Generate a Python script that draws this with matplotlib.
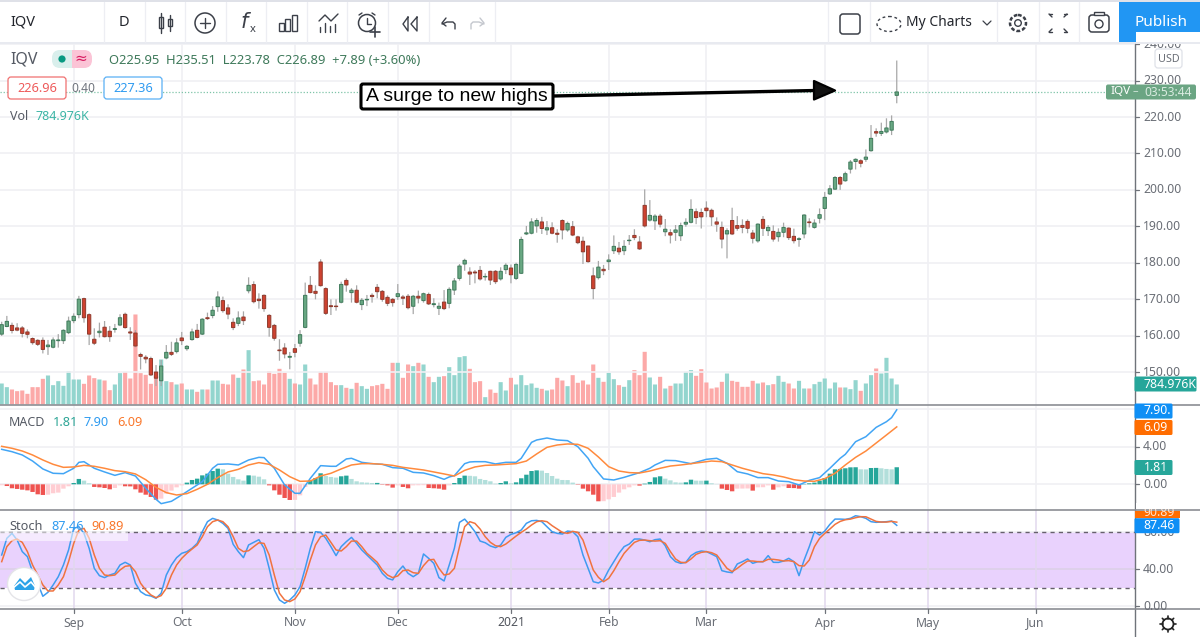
import matplotlib
matplotlib.use("Agg")
import matplotlib.pyplot as plt
import numpy as np
from matplotlib.patches import Rectangle, FancyBboxPatch, Circle, Polygon, Ellipse

plt.rcParams['font.family'] = ['Noto Sans', 'DejaVu Sans']

# ---------- DATA ----------
opens = [160.4,162.5,162.8,162.1,162.1,161,159.2,158.7,158.7,156.95,156.8,158.6,158.6,160.8,164.1,165.75,170.15,165.75,159,160.8,
162.3,161.2,161.7,162.9,165.85,161,160.7,154.8,154.05,153.7,150,147.6,153.85,155.4,155.6,159.35,156.4,158.9,161.45,160.4,
164.9,165.5,167.95,169.6,167.6,163.65,163.35,165.1,172.3,174,170,171.05,165.55,162.8,156.05,156.6,154.05,156.4,157.9,162.25,
173.8,172.15,180.2,172.9,168.2,168.1,169.15,175.15,171.8,172.45,168.5,169.8,171.05,173.25,172.15,170.5,169.95,170.7,170.6,170.8,
168.05,170.8,169.6,171.3,168.5,167.5,169.2,168.85,172.5,175.7,179.65,177.45,177.45,177.9,176.1,177.65,177.65,175.55,178.1,178.55,175.7,
177.1,187.9,188.1,190.1,191.2,189.0,189.6,188.1,191.6,189.0,189.9,187.1,185.9,184.6,176.4,175.9,178.2,180.3,183.3,184,
183.3,186.05,187.5,185.7,195.75,191.7,191.5,192.8,188.5,188.25,188.35,187.4,190.6,191.1,194,193.8,195,194.4,191.2,189.7,
187.9,191.6,190.2,190.25,191.35,188.15,186,191.9,188.8,188.6,187.15,188.35,189.5,187.25,186.4,187.9,191.2,189.7,192.2,194.9,
198.9,200.2,203.4,202.5,205.7,207.8,208,208.4,210.75,216,215.5,215.9,216.4,225.95]
highs = [163.8,165.4,163.55,163.4,162.6,161.7,159.5,159,159.5,158.8,159.5,160.4,161.7,165.2,166.1,170.9,170.4,166.1,162,163.55,
164,162.6,163.2,165.85,166.3,162.3,161.5,155.3,154.6,154.2,151.9,153.3,157.4,158.3,159.25,161,157.4,161.9,163.2,164.75,
166.3,168.1,172.15,170.7,168.6,164.75,166.65,166.65,176,174.9,171.6,171.3,165.9,163.2,159,157.9,155.5,157.7,161.5,174.55,
176.35,173.8,180.95,173.25,169.95,169.95,174.8,175.7,173,173.8,170.3,171.15,171.6,174.15,172.5,171.05,170.3,174.15,171.15,171.4,
171.15,172.35,171.8,171.8,170.25,169.05,172.5,173.25,175.8,179.65,181.1,178.75,178,179.1,177.1,177.8,178,178.75,179.85,179.5,180,
187.15,190.1,192.2,192.2,192.6,191.45,191.1,189.2,191.9,191.3,191.45,187.4,187.15,184.6,178.7,180.5,179.4,182.3,187.5,185.7,
186.2,187.6,189.2,187.3,200.15,197.2,193.3,193.4,192,189.2,190.35,191,192.2,197.4,194.9,194.9,196.85,194.85,192.45,191.3,
189.45,195.1,192.8,191.9,191.9,189,190.8,192.8,190.35,190.25,189.45,191,189.7,189.35,187,193.3,192.2,191.9,194.9,199.4,
201.3,203.8,203.8,205,208.2,208.65,208.4,211.1,217.8,216.9,218.45,219.65,220.45,235.51]
lows = [159.9,162.3,160.6,161.2,159.5,159.25,157.5,157.15,155.1,154.7,156.5,156.7,157.7,160.4,163.4,164.75,163.55,157.4,157.4,159.5,
159.5,158.3,160.8,162.6,161.9,158.8,156.8,150.7,152.4,148.9,146.15,146.15,153.5,154.4,155.1,157.4,155.85,158.6,159.25,160.15,
164.3,164.75,166.55,166.3,164.5,161.5,162.6,162.9,171.6,168.85,167.4,166.55,159.7,158.6,153.1,153.75,150.75,154.05,156.95,162,
171.6,169.95,173.45,165.65,165.65,166.85,168.85,172.05,169.05,168.85,167,168.1,169.05,170.25,169.3,168.1,167.95,169.8,168.4,167.2,
165.9,168.85,169.05,168.4,167.75,165.65,167,167.5,171.15,175.1,177.8,173.9,174.35,175.1,175.1,173.9,174.15,175.1,176.9,174.35,175.25,
176.9,187.6,187.8,188.25,187.9,187.6,187.8,185.5,186.4,188.5,187.3,185.1,179.65,180,170,175.4,176.6,178,182.4,182.2,
182.1,184.9,186.2,183.5,189.7,191.3,189,189.7,187.3,185.3,186,186,189.9,190.8,190.6,189.4,192.5,190.1,188.5,183.95,
181.2,187.6,188.8,188.1,188.1,185.3,185.5,187.35,187.35,185.8,185.8,187,186.25,185.3,184.4,186.7,189.7,189.35,190.8,191.7,
198.6,200,200,202.25,204.5,205.6,206.2,207.7,210.5,214.6,214.8,215.5,215.05,223.78]
closes = [163,163.9,161.4,161.5,160.6,160.35,158.05,157.6,156.2,157.4,158.8,158.8,161.45,164,165.3,170,164.9,160.4,157.9,161.2,
159.7,159.7,161.9,164.9,162.2,160.7,157.15,154.3,153.6,149.2,148.3,151.65,155.4,154.85,158,158.6,157.05,161,159.5,164.5,
164.65,166.95,170.6,166.85,165.9,162.2,164.85,164.1,173.8,169.3,169.6,167.4,162.25,159.25,155.85,154.95,154.3,155.4,160.25,171.05,
171.8,171.6,173.7,166.1,167.95,167.95,174.05,173.9,172.45,169.15,169.7,169.95,170.7,172.05,169.95,168.85,169.05,171.5,170.25,167.65,
170.8,170.3,171.5,168.7,168.75,168.05,167.4,172.7,175,179.1,180.65,176.9,177.2,175.55,176.25,175.25,174.8,177.65,179.3,176.7,179.55,
186.4,188.2,191.2,191.6,189.4,189.6,188.1,187.8,189.0,190.8,187.6,185.5,183.0,180.3,172.9,178.8,177.8,180.75,184.5,183,
184.5,186.2,186.9,183.8,190.1,193,192.8,190.6,189.2,187.6,189,190.2,191.1,194.65,192.4,192.6,194.3,192.6,190.6,186.5,
188.8,187.9,189.45,189.7,189.45,186.7,190.6,189.45,189.7,186.5,188.35,189.7,186.9,186.05,186.6,193.1,191,190.9,193.2,197.95,
200.3,203.4,201.6,204.45,207.65,208.4,207.3,209,214.15,215.6,216.05,217,218.8,226.89]
volumes = [823,680,588,523,549,418,680,680,1006,1137,758,915,732,1307,980,980,810,1137,1033,980,
941,562,784,1229,1281,1019,3529,1229,1163,810,1111,1764,915,876,784,823,588,588,497,588,
588,941,941,810,784,1176,1046,1372,2130,915,941,784,1307,1202,1398,1242,1006,823,784,1568,
1019,784,1281,1281,876,758,758,654,614,850,719,614,719,758,810,614,1634,1634,1046,1568,
1503,1634,1568,1085,876,1085,1111,1464,1150,1856,1895,1398,876,915,288,588,457,876,549,1046,
784,1150,758,823,654,614,549,588,1046,941,719,1150,850,941,784,1568,1046,889,1242,993,
758,693,954,1346,1150,2065,1059,784,1085,627,732,823,823,1281,1346,1124,1385,863,627,667,
889,1215,928,889,693,693,928,823,863,758,797,1124,889,823,627,928,627,627,797,889,
1019,627,863,667,667,601,954,536,823,1150,1411,1215,1830,1019,785]
macd_hist = [-0.10,-0.18,-0.42,-0.49,-0.57,-0.64,-0.81,-1.06,-1.13,-1.10,-0.95,-0.88,-0.46,-0.21,0.14,0.57,0.39,0.11,-0.28,-0.32,
-0.39,-0.53,-0.39,-0.11,-0.21,-0.22,-0.53,-0.88,-1.10,-1.34,-1.63,-1.52,-0.99,-0.67,-0.32,-0.11,0.18,0.46,0.60,0.95,
1.13,1.41,1.66,1.59,1.13,0.78,0.53,0.39,0.95,0.92,0.81,0.53,-0.11,-0.64,-1.10,-1.45,-1.66,-1.65,-1.17,-0.28,
0.42,0.67,1.17,0.88,0.78,0.71,0.85,0.92,0.57,0.32,0.21,0.18,0.14,0.15,-0.04,-0.11,-0.35,-0.11,-0.28,-0.42,
-0.11,-0.10,-0.09,-0.39,-0.42,-0.46,-0.57,-0.11,0.14,0.67,0.92,0.90,0.85,0.57,0.46,0.32,0.07,0.14,0.32,0.11,
0.21,0.64,1.02,1.41,1.48,1.45,1.20,0.88,0.60,0.46,0.45,0.18,-0.04,-0.46,-0.74,-1.10,-1.80,-1.79,-1.59,-1.34,
-0.88,-0.53,-0.32,-0.11,-0.14,0.07,0.25,0.74,0.85,0.60,0.42,0.21,0.18,0.21,0.49,0.39,0.38,0.39,0.11,0.02,
-0.46,-0.60,-0.74,-0.46,-0.45,-0.44,-0.67,-0.32,-0.31,-0.11,-0.57,-0.32,-0.21,-0.39,-0.40,-0.46,0.04,0.11,0.18,0.39,
0.67,1.13,1.59,1.63,1.70,1.80,1.81,1.59,1.58,1.73,1.74,1.70,1.63,1.59,1.81]
macd_idx = [0,2,4,6,8,10,12,14,15,16,18,20,22,24,26,28,30,31,33,35,37,39,41,42,44,46,48,50,51,53,55,57,58,60,62,64,65,67,68,70,72,74,76,78,80,82,84,86,87,
88,90,91,92,94,96,98,100,101,103,104,106,108,110,112,114,115,117,119,121,124,126,127,129,131,134,137,139,141,143,145,147,149,151,153,155,157,159,161,163,164,166,168,170,172,173,174]
macd_line = [3.71,3.46,3.11,2.47,1.63,1.17,1.13,1.70,2.33,2.40,1.70,1.31,0.95,1.24,0.88,-0.42,-1.59,-2.05,-1.80,-1.13,-0.42,0.28,1.70,2.12,2.16,2.05,2.58,2.86,2.83,1.70,-0.07,-0.95,-0.95,0.64,1.98,1.91,1.91,2.69,2.76,2.33,2.19,2.12,1.77,1.70,1.27,1.20,0.92,0.53,0.78,
0.92,2.19,2.37,2.40,2.40,2.16,2.33,2.33,2.76,4.45,4.70,4.91,4.70,4.63,3.99,2.76,1.87,0.57,0.46,0.74,1.24,1.70,2.05,2.54,2.51,2.19,2.65,2.76,2.23,1.34,1.10,0.71,0.71,0.35,0.28,-0.07,0.42,0.71,1.70,2.76,3.18,4.52,5.05,6.04,6.64,7.07,7.90]
signal_idx = list(range(0, 175, 2))
signal_line = [4.03,3.82,3.53,3.11,2.58,2.12,1.80,1.84,2.01,1.91,1.70,1.45,1.34,1.10,0.49,-0.32,-0.88,-1.13,-0.99,-0.53,0.00,0.71,1.31,1.59,2.05,2.30,2.12,1.52,0.81,0.32,0.35,0.88,1.17,1.63,2.05,2.19,2.19,2.12,2.01,1.80,1.66,1.52,1.31,1.10,
0.88,1.48,1.84,2.01,2.05,2.12,2.19,2.47,3.22,3.92,4.17,4.28,4.24,3.82,2.90,1.87,1.41,1.24,1.20,1.41,1.70,1.94,2.05,2.19,2.33,2.47,2.40,2.05,1.70,1.41,1.13,0.99,0.78,0.49,0.35,0.32,0.60,1.17,2.05,2.86,3.53,4.38,5.23,6.09]
stoch_k = [55.5,73.5,78.8,71.7,59.1,53.7,37.5,25,11,15.3,23.2,32.1,44.7,60.9,84.2,86,78.8,62.7,41.1,33.2,31.1,33.9,35.7,44.7,47.6,44.7,25,16,12.4,11.3,8.8,14.2,33.9,44.7,52.6,57.3,59.1,62.7,68,80.6,91.4,95,93.2,89.6,84.2,67,59.1,52.6,66.3,69.1,72,62.7,41.1,17.8,7,3.4,7,12.4,21.4,41.1,62.7,80.6,79.9,73.5,64.5,54.8,64.5,69.9,74.5,68,60.9,55.5,50.1,44.7,35.7,30.3,28.6,37.5,43.6,35.7,32.1,35.7,56.6,51.9,46.5,31.1,27.5,44.7,
62.7,90.7,94.2,87.8,80.6,70.5,68.7,65.2,63.4,66.2,74.5,77.7,79.5,82.4,89.6,92.4,92.8,91.4,86,80.6,78.8,78.1,81.3,80.6,75.2,55.5,41.1,26.7,25.3,28.5,39.3,48.3,57.3,64.5,67.3,72.7,72.7,71.6,69.8,72,72.7,65.5,53.7,48.3,46.5,47.6,54.8,58.3,59.8,59.1,56.5,53.7,38.6,37.2,36.4,45.8,48.3,51.2,46.5,48.3,48.2,54.8,47.6,47.5,49,51.9,48.3,33.2,50.1,64.5,80.6,77,81.3,88.5,94.2,94.2,93.9,95,97.8,96.8,95,91.4,90.7,91,91.4,92.1,87.46]
stoch_d = [48.3,64.5,70.9,72.7,69.1,59.1,44.7,33.9,23.2,16.7,16.7,23.2,32.1,48.3,68,82.4,84.2,73.5,55.5,41.1,33.9,33.2,33.9,39.3,43.3,44,37.5,25,17.8,12.4,9.5,11.7,19.6,33.9,44.7,51.9,57.3,61.9,66.3,75.2,86,91.4,93.2,91.4,86,75.2,62.7,59.1,60.1,64.5,68.7,68,55.5,33.9,14.2,7,5.2,8.1,16,32.1,50.1,66.3,75.2,77,69.1,60.9,59.8,64.5,70.5,70.5,64.5,57.3,52.6,47.6,39.3,33.9,31.1,32.9,38.6,39.3,36.4,35.7,44,50.1,50.8,41.1,33.9,35,
41.1,64.5,86,91.4,89.6,83.5,75.2,69.1,65.5,64.5,67.3,71.6,75.9,79.9,83.5,87.8,91.4,92.4,91.4,87.1,83.5,79.9,78.8,81,79.9,71.6,55.5,39.3,31.4,26.7,30.3,38.6,48.3,57.3,63.4,69.1,71.3,71.6,70.9,70.5,70.9,68,59.1,51.2,47.6,47.2,51.2,56.2,58.3,59.1,58,55.5,48.3,41.1,37.5,41.1,45.4,49,49,48.3,48.3,50.8,50.8,50.1,49,49.4,48.3,44,43.6,50.1,64.5,73.4,78.8,83.5,88.5,91.7,93.5,94.2,95.7,96.8,96.7,94.2,91.7,91,91,91.7,90.89]
price_ticks = [150,160,170,180,190,200,210,220,230,240]
macd_ticks = [0,4,8]
stoch_ticks = [0,40,80]
month_idx = [14,35,57,77,99,118,137,160,180,201]
month_labels = ['Sep','Oct','Nov','Dec','2021','Feb','Mar','Apr','May','Jun']
last_price = 226.89
stoch_upper, stoch_lower = 80, 20

# ---------- LAYOUT ----------
W, H = 1200, 637
fig = plt.figure(figsize=(12, 6.37), dpi=100, facecolor='white')
AX_R = 1134.5
def pane(top, bottom, z=1):
    a = fig.add_axes([0, 1 - bottom / H, AX_R / W, (bottom - top) / H], zorder=z)
    a.set_xlim(-0.33, 220.22)
    a.set_xticks([]); a.set_yticks([])
    for s in a.spines.values():
        s.set_visible(False)
    a.patch.set_alpha(0)
    return a
def unsnap(container):
    for r in container:
        r.set_snap(False)

GRID = '#f0f0f4'
x = np.arange(len(closes))
o, h, l, c = map(np.array, (opens, highs, lows, closes))
up = c >= o

ax_v = pane(42, 404.5, 1)
ax_v.set_ylim(0, 14210)
unsnap(ax_v.bar(x, volumes, width=0.8, color=['#93d5ce' if u else '#fca9a8' for u in up], linewidth=0))
for m in month_idx:
    ax_v.axvline(m, color=GRID, lw=1.2, zorder=0)

ax_p = pane(42, 404.5, 2)
ax_p.set_ylim(141.08, 240.6)
for p in price_ticks:
    ax_p.axhline(p, color=GRID, lw=1.2, zorder=0)
ax_p.axhline(last_price, color='#7fc4a8', lw=0.9, ls=(0, (1, 1.5)), zorder=1)
wicks = ax_p.vlines(x, l, h, color='#a8a8a8', lw=0.9, zorder=2)
wicks.set_snap(False)
unsnap(ax_p.bar(x[up], (c - o)[up], bottom=o[up], width=0.64, color='#69a883', edgecolor='#3f7a5b', linewidth=0.7, zorder=3))
unsnap(ax_p.bar(x[~up], (o - c)[~up], bottom=c[~up], width=0.64, color='#cf4230', edgecolor='#8f3a2c', linewidth=0.7, zorder=3))

ax_m = pane(405, 509.5, 2)
ax_m.set_ylim(-2.67, 8.41)
for t in macd_ticks:
    ax_m.axhline(t, color=GRID, lw=1.2, zorder=0)
for m in month_idx:
    ax_m.axvline(m, color=GRID, lw=1.2, zorder=0)
hist = np.array(macd_hist)
prev = np.r_[hist[0], hist[:-1]]
hcol = []
for v, pv in zip(hist, prev):
    if v >= 0:
        hcol.append('#26a69a' if v >= pv else '#b2dfdb')
    else:
        hcol.append('#ffcdd2' if v >= pv else '#ef5350')
unsnap(ax_m.bar(x, hist, width=0.85, color=hcol, linewidth=0, zorder=1))
ax_m.plot(macd_idx, macd_line, color='#42a5f5', lw=1.1, zorder=3)
ax_m.plot(signal_idx, signal_line, color='#ff8a3d', lw=1.1, zorder=3)

ax_s = pane(510, 608.5, 2)
ax_s.set_ylim(-2.2, 104)
ax_s.axhspan(stoch_lower, stoch_upper, color='#e9d2fd', lw=0, zorder=0)
for t in stoch_ticks:
    ax_s.axhline(t, color='#dcd0e8' if t == 40 else GRID, lw=1.2, zorder=1)
for m in month_idx:
    ax_s.axvline(m, color='#e2d8ee', lw=1.1, zorder=1)
for t in (stoch_upper, stoch_lower):
    ax_s.axhline(t, color='#66606c', lw=1.0, ls=(0, (3, 3)), zorder=2)
ax_s.plot(x, stoch_k, color='#3f9bf0', lw=1.1, zorder=3)
ax_s.plot(x, stoch_d, color='#f0733f', lw=1.1, zorder=4)

# ---------- OVERLAY (interface) ----------
ov = fig.add_axes([0, 0, 1, 1], zorder=10)
ov.set_xlim(0, W); ov.set_ylim(H, 0); ov.axis('off'); ov.patch.set_alpha(0)
def T(px, py, s, col='#555a64', size=8.8, ha='left', va='center', **kw):
    return ov.text(px, py, s, color=col, fontsize=size, ha=ha, va=va, **kw)
def L(xs, ys, col='#3c4049', lw=1.0, **kw):
    ov.plot(xs, ys, color=col, lw=lw, solid_capstyle='round', **kw)
def box(x0, y0, w, h_, fc='white', ec='none', lw=1, r=2, z=5):
    ov.add_patch(FancyBboxPatch((x0 + r, y0 + r), w - 2 * r, h_ - 2 * r, boxstyle=f'round,pad={r},rounding_size={r}',
                                fc=fc, ec=ec, lw=lw, zorder=z))

# toolbar
ov.add_patch(Rectangle((0, 0), W, 2, fc='#dfe1e8', lw=0))
ov.add_patch(Rectangle((0, 42), W, 2, fc='#e8eaf0', lw=0))
for d in [104, 145, 185, 226, 266, 307, 347, 388, 429, 495, 828, 870, 997, 1039, 1079]:
    L([d, d], [2, 42], col='#edeef3', lw=0.9)
T(10, 22, 'IQV', '#23262d', 10.5, weight='medium')
T(124, 22, 'D', '#23262d', 10.5, ha='center', weight='medium')
# candle icon
L([161, 161], [13, 33]); ov.add_patch(Rectangle((159, 17), 4, 11, fc='white', ec='#3c4049', lw=1))
L([170, 170], [15, 31]); ov.add_patch(Rectangle((168, 19), 4, 7, fc='white', ec='#3c4049', lw=1))
# add icon
ov.add_patch(Circle((205, 23), 10, fc='none', ec='#3c4049', lw=1.1))
L([200, 210], [23, 23]); L([205, 205], [18, 28])
T(246, 23, '$f$', '#3c4049', 15, ha='center')
T(253, 29, 'x', '#3c4049', 8, ha='center')
# bar icon
for bx, bt in [(279, 23), (285, 19), (292, 15)]:
    ov.add_patch(Rectangle((bx, bt), 5, 31 - bt, fc='white', ec='#3c4049', lw=1))
# indicator icon
L([319, 325, 331, 338], [21, 15, 21, 14])
for bx, bt in [(320, 27), (325, 23), (330, 26), (335, 24)]:
    L([bx, bx], [bt, 32])
# alarm
ov.add_patch(Circle((367, 23), 8.5, fc='white', ec='#3c4049', lw=1.1))
L([367, 367, 371], [18, 24, 24]); L([359, 362], [15, 13]); L([375, 372], [15, 13])
L([370, 380], [32, 32], lw=1.2); L([375, 375], [27, 37], lw=1.2)
# rewind
L([408, 403, 408, 408], [17, 24, 31, 17]); L([417, 411, 417, 417], [17, 24, 31, 17])
# undo / redo
L([442, 447, 453, 455, 455], [24, 22, 22, 24, 29]); L([446, 442, 446], [18, 23, 26])
L([484, 479, 473, 471, 471], [24, 22, 22, 24, 29], col='#c4c7ce'); L([480, 484, 480], [18, 23, 26], col='#c4c7ce')
# right toolbar
box(840, 14, 20, 20, fc='white', ec='#3c4049', lw=1.1, r=3)
ov.add_patch(Ellipse((889, 24), 24, 15, fc='none', ec='#3c4049', lw=1, ls=(0, (2, 2))))
T(906, 22, 'My Charts', '#23262d', 10)
L([983, 987, 991], [21, 25, 21], lw=0.9)
ov.add_patch(Circle((1018, 23), 8, fc='white', ec='#3c4049', lw=1.8, ls=(0, (1.5, 0.8))))
ov.add_patch(Circle((1018, 23), 3.3, fc='white', ec='#3c4049', lw=1))
for sx, sy in [(-1, -1), (1, -1), (-1, 1), (1, 1)]:
    cx, cy = 1058 + 6 * sx, 23 + 6 * sy
    L([cx, cx + 3 * sx], [cy, cy + 3 * sy], lw=1)
    L([cx + 3 * sx, cx, ], [cy + 3 * sy, cy + 3 * sy], lw=1)
box(1089, 15, 20, 17, fc='white', ec='#3c4049', lw=1.1, r=3)
ov.add_patch(Rectangle((1094, 12), 10, 3, fc='white', ec='#3c4049', lw=1, zorder=6))
ov.add_patch(Circle((1099, 24), 4, fc='white', ec='#3c4049', lw=1, zorder=7))
ov.add_patch(Rectangle((1119, 2), 81, 40, fc='#2196f3', lw=0))
T(1161, 22, 'Publish', 'white', 11, ha='center', weight='semibold')

# legend
T(10, 60, 'IQV', '#555a64', 11.5)
box(52, 50, 21, 18, fc='#d9efec', r=8)
box(72, 50, 20, 18, fc='#fbc4d6', r=8)
ov.add_patch(Rectangle((62, 50), 10, 18, fc='#d9efec', lw=0, zorder=6))
ov.add_patch(Rectangle((72, 50), 10, 18, fc='#fbc4d6', lw=0, zorder=6))
ov.add_patch(Circle((62, 59), 3.6, fc='#089981', lw=0, zorder=7))
T(81, 59, '≈', '#d81b60', 11, ha='center', zorder=7)
T(109, 60.5, 'O225.95  H235.51  L223.78  C226.89  +7.89 (+3.60%)', '#3f7a5b', 9.35)
box(8, 77, 58, 22, fc='white', ec='#f07070', lw=0.9, r=3)
T(37, 88, '226.96', '#ee5a5a', 9.2, ha='center', zorder=6)
T(83, 88, '0.40', '#70757e', 8.6, ha='center')
box(104, 77, 58, 22, fc='white', ec='#5ab0f5', lw=0.9, r=3)
T(133, 88, '227.36', '#2f9bf0', 9.2, ha='center', zorder=6)
T(10, 117, 'Vol', '#555a64', 9)
T(36, 117, '784.976K', '#3db5a6', 9)
T(9, 422, 'MACD', '#555a64', 9)
T(53, 422, '1.81', '#2fa697', 9.2)
T(84, 422, '7.90', '#2f9bf0', 9.2)
T(117, 422, '6.09', '#f9772b', 9.2)
ov.add_patch(Rectangle((0, 531.5), 128, 9, fc='white', alpha=0.55, lw=0))
T(9, 526, 'Stoch', '#555a64', 9.2)
T(51, 526, '87.46', '#2f9bf0', 9.2)
T(91, 526, '90.89', '#f9772b', 9.2)
# logo
ov.add_patch(Circle((24, 584), 16.5, fc='white', ec='#e4e4e8', lw=1, zorder=8))
ov.add_patch(Polygon([(14, 586), (20, 578), (25, 583), (31, 577), (35, 586), (34, 590), (15, 590)], fc='#2da3e8', lw=0, zorder=9))
L([13, 20, 25, 31, 36], [588, 582, 587, 582, 588], col='white', lw=1.2, zorder=9)

# annotation
L([553, 815], [96, 90.5], col='black', lw=2.4, zorder=7)
ov.add_patch(Polygon([(814, 81), (835, 90.5), (814, 99.5)], closed=True, fc='#111111', ec='black', lw=1.6, joinstyle='round', zorder=7))
box(361, 84, 192, 25, fc='white', ec='black', lw=2.2, r=2, z=8)
ov.text(457, 96.5, 'A surge to new highs', fontsize=14, color='black', ha='center', va='center',
        family=['Liberation Sans'], zorder=9)

# right axis
ov.add_patch(Rectangle((AX_R, 44), W - AX_R, 593, fc='white', lw=0, zorder=1))
L([AX_R, AX_R], [44, 637], col='#6f737a', lw=1.0, zorder=3)
L([0, W], [404.8, 404.8], col='#8b8e94', lw=1.2, zorder=3)
L([0, W], [509.7, 509.7], col='#8b8e94', lw=1.2, zorder=3)
L([0, W], [608.5, 608.5], col='#8b8e94', lw=1.2, zorder=3)

def right_y(a, v):
    disp = a.transData.transform((0, v))
    return H - disp[1] * H / fig.bbox.height
def tick(py):
    L([AX_R, AX_R + 4], [py, py], col='#6f737a', lw=0.9, zorder=3)
for p in price_ticks:
    py = right_y(ax_p, p)
    tick(py)
    T(1143, py + (0.5 if p == 240 else 0), f'{p:.2f}', '#6a6e76', 8.8)
ov.add_patch(Rectangle((1136, 42), 64, 2, fc='#e8eaf0', lw=0, zorder=4))
ov.add_patch(Rectangle((1136, 32), 64, 10, fc='white', lw=0, zorder=4))
box(1155, 49, 27, 19, fc='white', ec='#dfe1e8', lw=0.9, r=3)
T(1168.5, 59, 'USD', '#6a6e76', 7.8, ha='center', zorder=6)
for t, lab in [(4, '4.00'), (0, '0.00')]:
    py = right_y(ax_m, t); tick(py); T(1143, py, lab, '#6a6e76', 8.8)
for t, lab in [(40, '40.00'), (0, '0.00')]:
    py = right_y(ax_s, t); tick(py); T(1143, py, lab, '#6a6e76', 8.8)
T(1143, 532.5, '80.00', '#6a6e76', 8.8)

def tag(py, w, s, col, h_=15, r=1.5):
    box(AX_R, py - h_ / 2, w, h_, fc=col, r=r, z=6)
    T(AX_R + 9, py, s, 'white', 8.8, zorder=7)
box(1106, 84.5, 90, 15, fc='#6ba583', r=2, z=6)
T(1110, 91.5, 'IQV', 'white', 8.4, zorder=7, weight='medium')
T(1133, 91.5, '–', '#d9ebe0', 8, zorder=7)
T(1144, 92, '03:53:44', '#d9ebe0', 8.6, zorder=7)
tag(384, 62, '784.976K', '#26a69a')
tag(411, 38, '7.90.', '#0f8ff5')
tag(427.5, 38, '6.09', '#ff6d00')
tag(467.5, 38, '1.81', '#26a69a')
ov.add_patch(Rectangle((AX_R, 510.5), 45, 7, fc='#ff6d00', lw=0, zorder=6))
tag(525.7, 45, '87.46', '#0f8ff5')
T(AX_R + 9, 513, '90.89', '#ffe3d0', 8.8, zorder=7)
ov.add_patch(Rectangle((AX_R + 1, 503), 60, 6.2, fc='white', lw=0, zorder=8))

# time axis
for m, lab in zip(month_idx, month_labels):
    px = ax_s.transData.transform((m, 0))[0] * W / fig.bbox.width
    L([px, px], [608.5, 612.5], col='#6f737a', lw=0.9, zorder=3)
    T(px, 623, lab, '#6a6e76' if lab != '2021' else '#50545c', 8.8, ha='center', weight='bold' if lab == '2021' else 'normal')
# gear
ov.add_patch(Circle((1168, 624), 5.5, fc='white', ec='#222', lw=1.3))
for a in np.linspace(0, 2 * np.pi, 8, endpoint=False):
    L([1168 + 5.5 * np.cos(a), 1168 + 8 * np.cos(a)], [624 + 5.5 * np.sin(a), 624 + 8 * np.sin(a)], col='#222', lw=1.2)

fig.savefig('out.png', dpi=100, facecolor='white')
